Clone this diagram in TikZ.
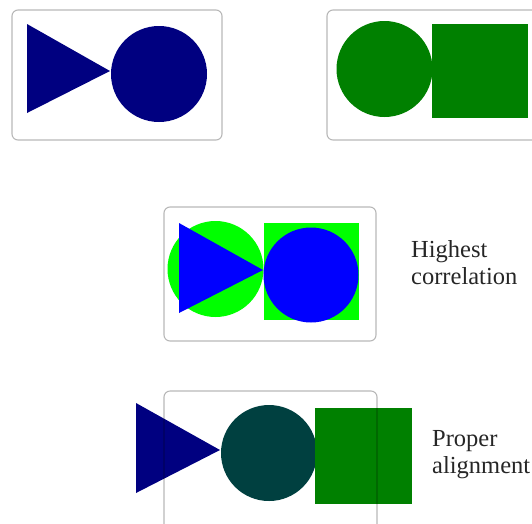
\documentclass[tikz,border=0pt]{standalone}
\usepackage{fontspec}
\setmainfont{Liberation Serif}
\definecolor{navyc}{RGB}{0,0,128}
\definecolor{greenc}{RGB}{0,128,0}
\definecolor{limec}{RGB}{0,255,0}
\definecolor{bluec}{RGB}{0,0,255}
\definecolor{tealc}{RGB}{0,64,64}
\begin{document}
\begin{tikzpicture}[x=1pt,y=-1pt,
  panel/.style={draw=black,draw opacity=0.28,line width=1.1pt,rounded corners=6pt},
  label/.style={anchor=base west,inner sep=0pt,align=left,font=\fontsize{24.5}{27}\selectfont,text=black!85}]
\useasboundingbox (0,0) rectangle (532,523);
% panel 1
\draw[panel] (12,10) rectangle (222,140);
\fill[navyc] (27,24) -- (110,71) -- (27,113) -- cycle;
\fill[navyc] (159,74) circle (48);
% panel 2
\draw[panel] (327,10) rectangle (545,140);
\fill[greenc] (384.5,69) circle (48);
\fill[greenc] (432,24) rectangle (528,118);
% panel 3
\draw[panel] (164,207) rectangle (376,341);
\fill[limec] (215.5,269) circle (48);
\fill[limec] (264,223) rectangle (359,320);
\fill[bluec] (179,223) -- (263,270) -- (179,313) -- cycle;
\fill[bluec] (311,275) circle (47.5);
\node[label] (hc) at (411,284) {Highest\\correlation};
% panel 4
\fill[navyc] (136,403) -- (220,450) -- (136,493) -- cycle;
\fill[tealc] (269,453) circle (48);
\fill[greenc] (315,408) rectangle (412,504);
\draw[panel] (164,391) rectangle (377,530);
\node[label] (pa) at (432,473) {Proper\\alignment};
\end{tikzpicture}
\end{document}
